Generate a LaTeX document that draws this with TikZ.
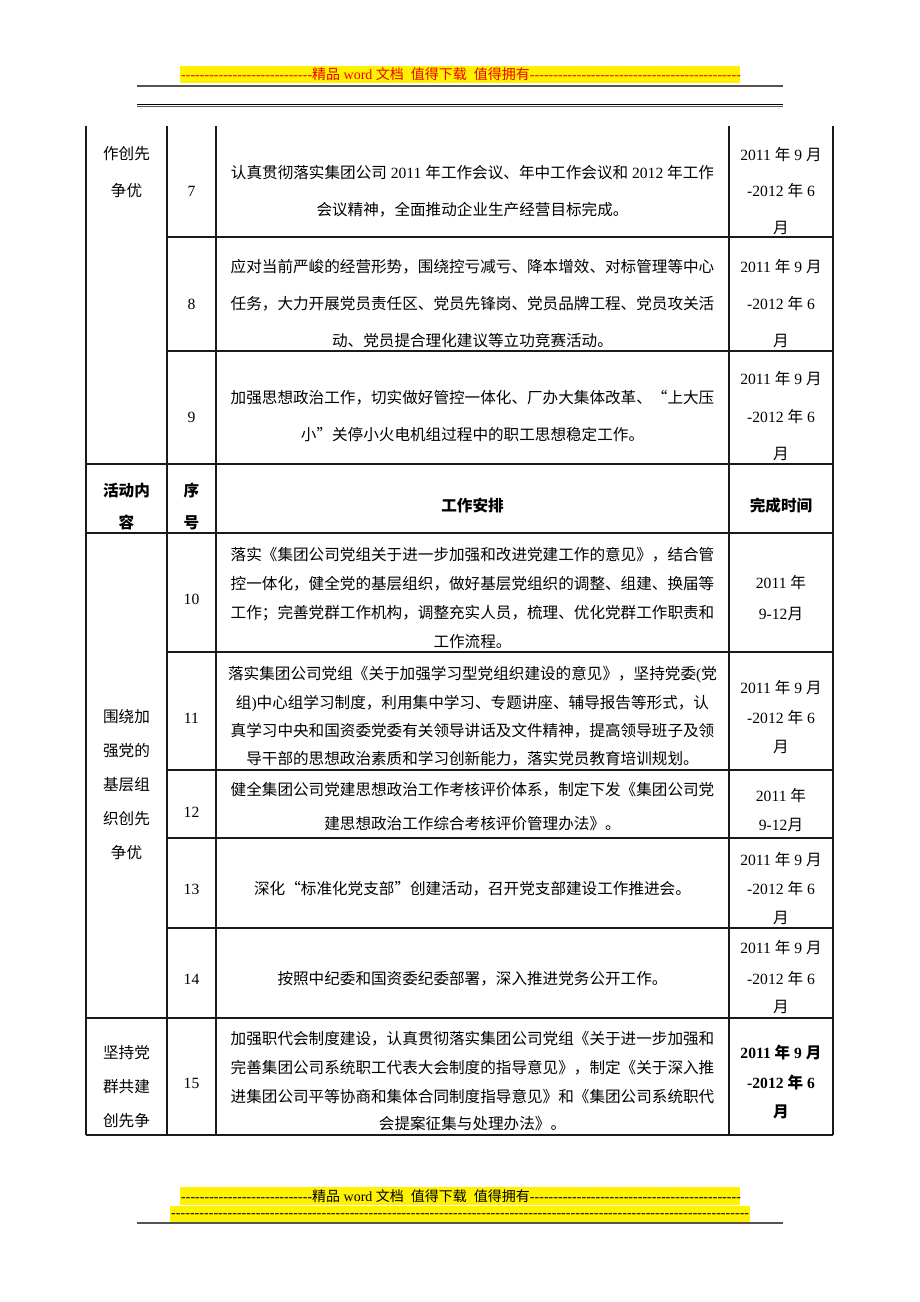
\documentclass[tikz,border=0pt]{standalone}
\usepackage{fontspec}
\setmainfont{Noto Sans CJK SC}
\newfontfamily\latf{Liberation Serif}
\newcommand\dg[1]{{\latf #1}}
\newcommand\dashfill[1]{\dg{\hbox to #1{\xleaders\hbox{-}\hfill}}}
\definecolor{tline}{HTML}{1A1A1A}
\definecolor{rline}{HTML}{555555}
\definecolor{hired}{HTML}{F00000}
\begin{document}
\begin{tikzpicture}[x=1pt,y=-1pt,
  t/.style={inner sep=0pt, font=\fontsize{15.6}{18}\selectfont, text height=13pt, text depth=0pt, anchor=center},
  tb/.style={t, font=\fontsize{15.6}{18}\selectfont\bfseries},
  grid/.style={line width=1.4pt, color=tline},
  rule/.style={line width=1.3pt, color=rline},
  hl/.style={inner sep=0pt, anchor=base west, font=\fontsize{14}{16}\selectfont}]
\useasboundingbox (0,0) rectangle (920,1302);
\fill[white] (0,0) rectangle (920,1302);

% ---- page header ----
\fill[yellow] (180,66) rectangle (740,83);
\node[hl, text=hired] (hdrtxt) at (181,79.8) {\dashfill{131pt}精品\dg{ word }文档\dg{\ \ }值得下载\dg{\ \ }值得拥有\dashfill{211pt}};
\draw[rule] (137,86) -- (783,86);
\draw[line width=1pt, color=black] (137,104) -- (783,104);
\draw[line width=1pt, color=rline] (137,106.8) -- (783,106.8);

% ---- page footer ----
\fill[yellow] (180,1187) rectangle (740,1205);
\fill[yellow] (170,1206) rectangle (750,1222);
\node[hl] (fttxt) at (181,1201) {\dashfill{131pt}精品\dg{ word }文档\dg{\ \ }值得下载\dg{\ \ }值得拥有\dashfill{211pt}};
\node[hl] (ftdash) at (171,1217) {\dashfill{578pt}};
\draw[rule] (137,1223) -- (783,1223);

% ---- table grid ----
\foreach \x in {86,167,216,729,833} \draw[grid] (\x,126) -- (\x,1135);
\foreach \y in {237,351,652,770,838,928} \draw[grid] (167,\y) -- (833,\y);
\foreach \y in {464,533,1018,1135} \draw[grid] (86,\y) -- (833,\y);

% ---- group 1 ----
\node[t] (g1a) at (126.5,153) {作创先};
\node[t] (g1b) at (126.5,190) {争优};

% row 7
\node[t] (n7) at (191.5,190) {\dg{7}};
\node[t] (r7a) at (472.5,172) {认真贯彻落实集团公司\dg{ 2011 }年工作会议、年中工作会议和\dg{ 2012 }年工作};
\node[t] (r7b) at (472.5,209) {会议精神，全面推动企业生产经营目标完成。};
\node[t] (d7a) at (781,154) {\dg{2011 }年\dg{ 9 }月};
\node[t] (d7b) at (781,190) {\dg{-2012 }年\dg{ 6}};
\node[t] (d7c) at (781,227) {月};

% row 8
\node[t] (n8) at (191.5,303) {\dg{8}};
\node[t] (r8a) at (472.5,266) {应对当前严峻的经营形势，围绕控亏减亏、降本增效、对标管理等中心};
\node[t] (r8b) at (472.5,303) {任务，大力开展党员责任区、党员先锋岗、党员品牌工程、党员攻关活};
\node[t] (r8c) at (472.5,340) {动、党员提合理化建议等立功竞赛活动。};
\node[t] (d8a) at (781,266) {\dg{2011 }年\dg{ 9 }月};
\node[t] (d8b) at (781,303) {\dg{-2012 }年\dg{ 6}};
\node[t] (d8c) at (781,340) {月};

% row 9
\node[t] (n9) at (191.5,416) {\dg{9}};
\node[t] (r9a) at (472.5,397) {加强思想政治工作，切实做好管控一体化、厂办大集体改革、“上大压};
\node[t] (r9b) at (472.5,434) {小”关停小火电机组过程中的职工思想稳定工作。};
\node[t] (d9a) at (781,378) {\dg{2011 }年\dg{ 9 }月};
\node[t] (d9b) at (781,416) {\dg{-2012 }年\dg{ 6}};
\node[t] (d9c) at (781,453) {月};

% ---- header row ----
\node[tb] (h1a) at (126.5,490) {活动内};
\node[tb] (h1b) at (126.5,522) {容};
\node[tb] (h2a) at (191.5,490) {序};
\node[tb] (h2b) at (191.5,522) {号};
\node[tb] (h3) at (472.5,505) {工作安排};
\node[tb] (h4) at (781,505) {完成时间};

% ---- group 2 ----
\node[t] (g2a) at (126.5,716) {围绕加};
\node[t] (g2b) at (126.5,750) {强党的};
\node[t] (g2c) at (126.5,784) {基层组};
\node[t] (g2d) at (126.5,818) {织创先};
\node[t] (g2e) at (126.5,852) {争优};

% row 10
\node[t] (n10) at (191.5,598) {\dg{10}};
\node[t] (r10a) at (472.5,554) {落实《集团公司党组关于进一步加强和改进党建工作的意见》，结合管};
\node[t] (r10b) at (472.5,583) {控一体化，健全党的基层组织，做好基层党组织的调整、组建、换届等};
\node[t] (r10c) at (472.5,612) {工作；完善党群工作机构，调整充实人员，梳理、优化党群工作职责和};
\node[t] (r10d) at (472.5,641) {工作流程。};
\node[t] (d10a) at (781,582) {\dg{2011 }年};
\node[t] (d10b) at (781,613) {\dg{9-12}月};

% row 11
\node[t] (n11) at (191.5,717) {\dg{11}};
\node[t] (r11a) at (472.5,673) {落实集团公司党组《关于加强学习型党组织建设的意见》，坚持党委\dg{(}党};
\node[t] (r11b) at (472.5,701.5) {组\dg{)}中心组学习制度，利用集中学习、专题讲座、辅导报告等形式，认};
\node[t] (r11c) at (472.5,730) {真学习中央和国资委党委有关领导讲话及文件精神，提高领导班子及领};
\node[t] (r11d) at (472.5,758) {导干部的思想政治素质和学习创新能力，落实党员教育培训规划。};
\node[t] (d11a) at (781,687) {\dg{2011 }年\dg{ 9 }月};
\node[t] (d11b) at (781,717) {\dg{-2012 }年\dg{ 6}};
\node[t] (d11c) at (781,746) {月};

% row 12
\node[t] (n12) at (191.5,811) {\dg{12}};
\node[t] (r12a) at (472.5,789) {健全集团公司党建思想政治工作考核评价体系，制定下发《集团公司党};
\node[t] (r12b) at (472.5,823) {建思想政治工作综合考核评价管理办法》。};
\node[t] (d12a) at (781,795) {\dg{2011 }年};
\node[t] (d12b) at (781,824) {\dg{9-12}月};

% row 13
\node[t] (n13) at (191.5,888) {\dg{13}};
\node[t] (r13) at (472.5,888) {深化“标准化党支部”创建活动，召开党支部建设工作推进会。};
\node[t] (d13a) at (781,859) {\dg{2011 }年\dg{ 9 }月};
\node[t] (d13b) at (781,888) {\dg{-2012 }年\dg{ 6}};
\node[t] (d13c) at (781,917) {月};

% row 14
\node[t] (n14) at (191.5,978) {\dg{14}};
\node[t] (r14) at (472.5,978) {按照中纪委和国资委纪委部署，深入推进党务公开工作。};
\node[t] (d14a) at (781,947) {\dg{2011 }年\dg{ 9 }月};
\node[t] (d14b) at (781,978) {\dg{-2012 }年\dg{ 6}};
\node[t] (d14c) at (781,1006) {月};

% ---- group 3 / row 15 ----
\node[t] (g3a) at (126.5,1052) {坚持党};
\node[t] (g3b) at (126.5,1086) {群共建};
\node[t] (g3c) at (126.5,1120) {创先争};
\node[t] (n15) at (191.5,1082) {\dg{15}};
\node[t] (r15a) at (472.5,1038) {加强职代会制度建设，认真贯彻落实集团公司党组《关于进一步加强和};
\node[t] (r15b) at (472.5,1067) {完善集团公司系统职工代表大会制度的指导意见》，制定《关于深入推};
\node[t] (r15c) at (472.5,1096) {进集团公司平等协商和集体合同制度指导意见》和《集团公司系统职代};
\node[t] (r15d) at (472.5,1123) {会提案征集与处理办法》。};
\node[tb] (d15a) at (781,1052) {{\latf\bfseries 2011 }年{\latf\bfseries\ 9 }月};
\node[tb] (d15b) at (781,1082) {{\latf\bfseries -2012 }年{\latf\bfseries\ 6}};
\node[tb] (d15c) at (781,1111) {月};
\end{tikzpicture}
\end{document}
